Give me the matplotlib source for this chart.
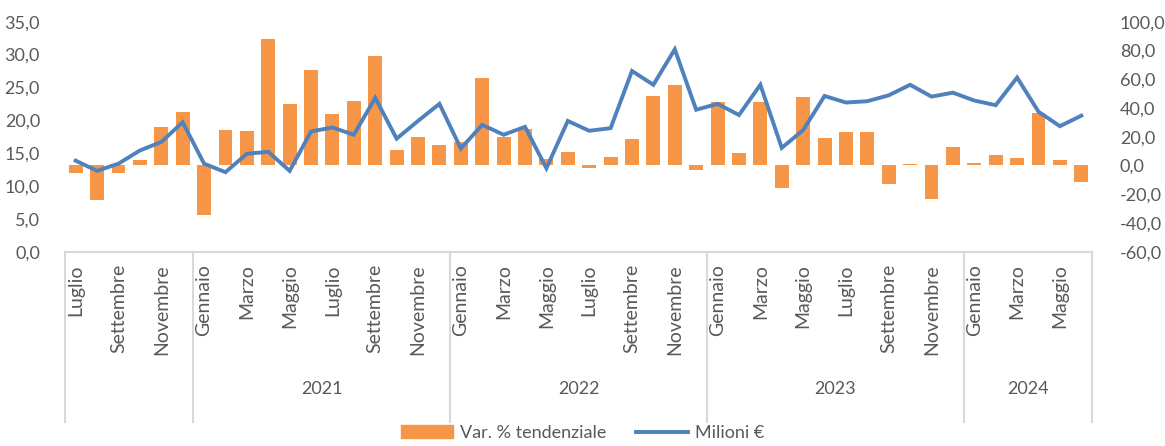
import matplotlib
matplotlib.use("Agg")
import matplotlib.pyplot as plt
from matplotlib.lines import Line2D
from matplotlib.patches import Patch
from matplotlib.ticker import FuncFormatter, MultipleLocator
from matplotlib.transforms import blended_transform_factory

plt.rcParams["font.family"] = ["Lato", "DejaVu Sans"]

# Luglio 2020 .. Giugno 2024
mesi = ["Luglio", "Agosto", "Settembre", "Ottobre", "Novembre", "Dicembre"] + \
       ["Gennaio", "Febbraio", "Marzo", "Aprile", "Maggio", "Giugno",
        "Luglio", "Agosto", "Settembre", "Ottobre", "Novembre", "Dicembre"] * 3 + \
       ["Gennaio", "Febbraio", "Marzo", "Aprile", "Maggio", "Giugno"]
anni = ["", "2021", "2022", "2023", "2024"]
mesi_per_anno = [6, 12, 12, 12, 6]

var_tend = [-5.1, -24.1, -5.1, 3.5, 26.7, 37.3,
            -34.6, 25.0, 24.1, 88.3, 42.9, 66.1, 35.7, 44.8, 75.8, 10.7, 19.7, 14.4,
            16.5, 60.8, 19.9, 25.3, 4.2, 9.7, -1.6, 5.6, 18.1, 48.5, 56.3, -3.5,
            43.8, 9.0, 43.8, -16.0, 47.3, 18.8, 23.0, 23.0, -13.2, 0.9, -23.0, 12.5,
            1.9, 7.2, 5.3, 36.4, 3.5, -11.4]
milioni = [13.85, 12.3, 13.4, 15.4, 16.7, 19.7,
           13.4, 12.1, 14.9, 15.2, 12.3, 18.3, 18.9, 17.8, 23.4, 17.2, 19.9, 22.5,
           15.7, 19.3, 17.8, 19.0, 12.7, 19.9, 18.4, 18.8, 27.5, 25.4, 30.8, 21.6,
           22.5, 20.8, 25.4, 15.8, 18.5, 23.7, 22.7, 22.9, 23.8, 25.4, 23.6, 24.2,
           23.0, 22.3, 26.5, 21.3, 19.1, 20.7]

ORANGE = "#F79646"
BLUE = "#4F81BD"
TXT = "#595959"
GRID = "#D9D9D9"
W, H = 1165, 446

fig = plt.figure(figsize=(W / 100, H / 100), dpi=100)
ax = fig.add_axes([65 / W, 1 - 251.7 / H, 1027 / W, 230 / H])
ax2 = ax.twinx()
x = list(range(len(mesi)))

# bars on the right-hand scale
ax.bar(x, var_tend, width=0.65, color=ORANGE, zorder=2)
ax.set_ylim(-60, 100)
ax.set_xlim(-0.5, len(mesi) - 0.5)
ax.yaxis.tick_right()
ax.yaxis.set_major_locator(MultipleLocator(20))

# line on the left-hand scale
ax2.plot(x, milioni, color=BLUE, lw=2.8, solid_joinstyle="miter", zorder=3)
ax2.set_ylim(0, 35)
ax2.yaxis.tick_left()
ax2.yaxis.set_major_locator(MultipleLocator(5))

fmt = FuncFormatter(lambda v, p: f"{v:.1f}".replace(".", ","))
for a, pad in ((ax, 20), (ax2, 18)):
    a.yaxis.set_major_formatter(fmt)
    a.tick_params(axis="y", length=0, pad=pad, labelsize=13, labelcolor=TXT)
    a.set_xticks([])
    for s in a.spines.values():
        s.set_visible(False)

# category axis drawn by hand
tr = blended_transform_factory(ax.transData, fig.transFigure)
y_top = 1 - 251.7 / H
y_bot = 1 - 422 / H
fig.add_artist(Line2D([-0.5, len(mesi) - 0.5], [y_top, y_top], transform=tr,
                      color=GRID, lw=1.5))
for i, m in enumerate(mesi):
    if i % 2 == 0:
        fig.text(i, 1 - 264 / H, m, transform=tr, rotation=90, ha="center",
                 va="top", fontsize=14, color=TXT)
start = -0.5
fig.add_artist(Line2D([start, start], [y_top, y_bot], transform=tr, color=GRID, lw=1.5))
for anno, n in zip(anni, mesi_per_anno):
    end = start + n
    fig.add_artist(Line2D([end, end], [y_top, y_bot], transform=tr, color=GRID, lw=1.5))
    if anno:
        fig.text((start + end) / 2, 1 - 389 / H, anno, transform=tr, ha="center",
                 va="center", fontsize=13, color=TXT)
    start = end

handles = [Patch(color=ORANGE), Line2D([], [], color=BLUE, lw=2.8)]
fig.legend(handles, ["Var. % tendenziale", "Milioni €"], loc="center",
           bbox_to_anchor=(0.5, 1 - 433 / H), ncol=2, frameon=False,
           fontsize=13, labelcolor=TXT, handlelength=2.9, handleheight=0.7,
           handletextpad=0.4, columnspacing=1.6)

fig.savefig("out.png", dpi=100)
